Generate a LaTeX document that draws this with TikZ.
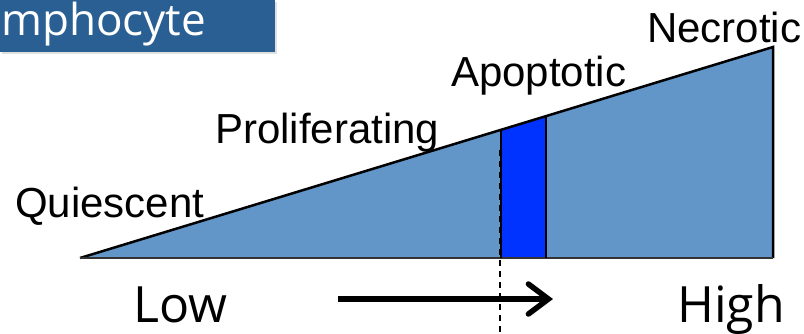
\documentclass[tikz,border=0pt]{standalone}
\usepackage{fontspec}
\setmainfont{Liberation Sans}
\newfontfamily\handfont{Open Sans}
\usetikzlibrary{arrows.meta}
\definecolor{cellfill}{RGB}{98,150,200}
\definecolor{apopfill}{RGB}{0,51,255}
\definecolor{bannerblue}{RGB}{42,95,147}
\tikzset{
  stage/.style={inner sep=0pt, anchor=base west, font=\fontsize{42}{50}\selectfont},
  level/.style={inner sep=0pt, anchor=base west, font=\handfont\fontsize{50}{60}\selectfont},
}
\begin{document}
\begin{tikzpicture}[x=1pt,y=-1pt]
\useasboundingbox (0,0) rectangle (804,333);
% banner
\fill[black!12] (2,2) rectangle (277,54);
\fill[bannerblue] (0,0) rectangle (275,52);
\node[inner sep=0pt, anchor=base west, text=white, font=\handfont\fontsize{44}{50}\selectfont] (banner) at (1,35) {mphocyte};
% wedge
\coordinate (tip) at (80,258);
\coordinate (corner) at (773,258);
\coordinate (peak) at (773,47);
\coordinate (apop bl) at (501,258);
\coordinate (apop br) at (546,258);
\coordinate (apop tr) at (546,116.5);
\coordinate (apop tl) at (501,130.5);
\fill[cellfill] (tip) -- (corner) -- (peak) -- cycle;
\fill[apopfill] (apop bl) -- (apop br) -- (apop tr) -- (apop tl) -- cycle;
\draw[line width=2.5pt] (tip) -- (peak) -- (corner);
\draw[line width=2pt, black!80] (tip) -- (corner);
\draw[line width=2.5pt] (apop tl) -- (apop bl);
\draw[line width=2.5pt] (apop tr) -- (apop br);
% threshold
\coordinate (cut top) at (499.5,150);
\coordinate (cut bottom) at (499.5,333);
\draw[line width=2pt, dash pattern=on 6pt off 5pt] (cut top) -- (cut bottom);
% labels
\node[stage] (quiescent) at (15,217) {Quiescent};
\node[stage] (proliferating) at (215,143) {Proliferating};
\node[stage] (apoptotic) at (451,86) {Apoptotic};
\node[stage] (necrotic) at (647,42) {Necrotic};
\node[level] (low) at (133,322) {Low};
\node[level] (high) at (677,322) {High};
% direction
\coordinate (arrow start) at (338,299);
\coordinate (arrow end) at (553,299);
\draw[line width=5.5pt, -{Straight Barb[length=20pt, width=30pt, line cap=round]}] (arrow start) -- (arrow end);
\end{tikzpicture}
\end{document}
